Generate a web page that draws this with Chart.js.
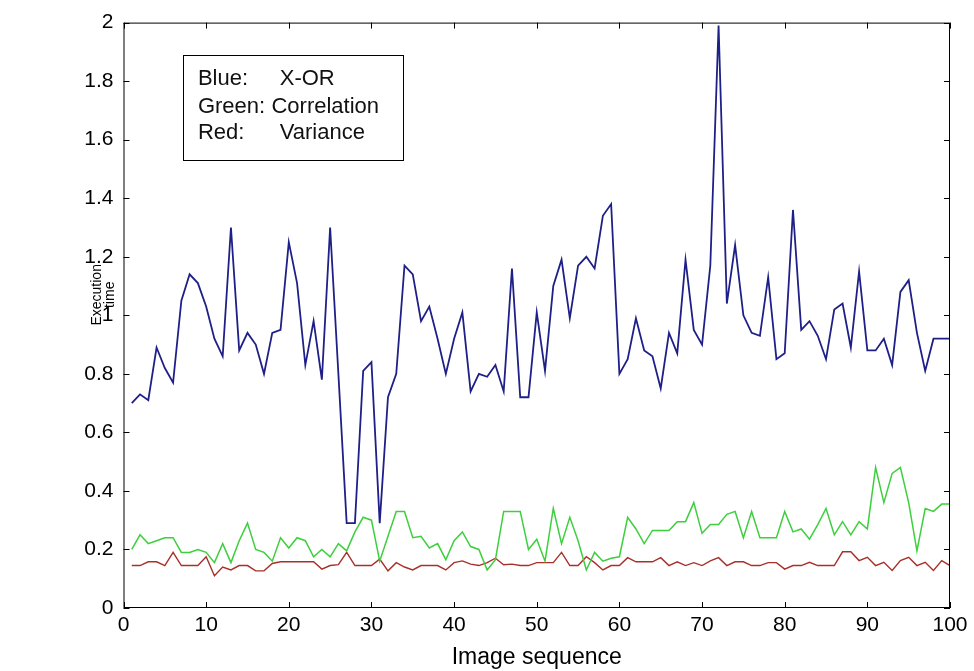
<!DOCTYPE html>
<html>
<head>
<meta charset="utf-8">
<script src="https://cdn.jsdelivr.net/npm/chart.js@4.4.0/dist/chart.umd.min.js"></script>
<style>
  body { margin: 0; background: #fff; }
</style>
</head>
<body>
<canvas id="myChart" width="974" height="671"></canvas>
<script>
const imageSeq = [1, 2, 3, 4, 5, 6, 7, 8, 9, 10, 11, 12, 13, 14, 15, 16, 17, 18, 19, 20,
  21, 22, 23, 24, 25, 26, 27, 28, 29, 30, 31, 32, 33, 34, 35, 36, 37, 38, 39, 40,
  41, 42, 43, 44, 45, 46, 47, 48, 49, 50, 51, 52, 53, 54, 55, 56, 57, 58, 59, 60,
  61, 62, 63, 64, 65, 66, 67, 68, 69, 70, 71, 72, 73, 74, 75, 76, 77, 78, 79, 80,
  81, 82, 83, 84, 85, 86, 87, 88, 89, 90, 91, 92, 93, 94, 95, 96, 97, 98, 99, 100];

// blue
const xorTime = [0.70, 0.73, 0.71, 0.89, 0.82, 0.77, 1.05, 1.14, 1.11, 1.03,
  0.92, 0.86, 1.30, 0.88, 0.94, 0.90, 0.80, 0.94, 0.95, 1.25,
  1.11, 0.83, 0.98, 0.78, 1.30, 0.80, 0.29, 0.29, 0.81, 0.84,
  0.29, 0.72, 0.80, 1.17, 1.14, 0.98, 1.03, 0.92, 0.80, 0.92,
  1.01, 0.74, 0.80, 0.79, 0.83, 0.74, 1.16, 0.72, 0.72, 1.01,
  0.81, 1.10, 1.19, 0.99, 1.17, 1.20, 1.16, 1.34, 1.38, 0.80,
  0.85, 0.99, 0.88, 0.86, 0.75, 0.94, 0.87, 1.19, 0.95, 0.90,
  1.17, 1.99, 1.04, 1.24, 1.00, 0.94, 0.93, 1.13, 0.85, 0.87,
  1.36, 0.95, 0.98, 0.93, 0.85, 1.02, 1.04, 0.89, 1.15, 0.88,
  0.88, 0.92, 0.83, 1.08, 1.12, 0.94, 0.81, 0.92, 0.92, 0.92];

// green
const corrTime = [0.20, 0.25, 0.22, 0.23, 0.24, 0.24, 0.19, 0.19, 0.20, 0.19,
  0.155, 0.22, 0.155, 0.23, 0.29, 0.20, 0.19, 0.16, 0.24, 0.205,
  0.24, 0.23, 0.175, 0.20, 0.175, 0.22, 0.195, 0.26, 0.31, 0.30,
  0.16, 0.245, 0.33, 0.33, 0.24, 0.245, 0.205, 0.22, 0.165, 0.23,
  0.26, 0.21, 0.20, 0.13, 0.165, 0.33, 0.33, 0.33, 0.20, 0.235,
  0.16, 0.34, 0.22, 0.31, 0.23, 0.13, 0.19, 0.16, 0.17, 0.175,
  0.31, 0.27, 0.22, 0.265, 0.265, 0.265, 0.295, 0.295, 0.36, 0.255,
  0.285, 0.285, 0.32, 0.33, 0.24, 0.33, 0.24, 0.24, 0.24, 0.33,
  0.26, 0.27, 0.235, 0.285, 0.34, 0.25, 0.295, 0.25, 0.295, 0.27,
  0.48, 0.36, 0.46, 0.48, 0.36, 0.195, 0.34, 0.33, 0.355, 0.355];

// red
const varTime = [0.145, 0.145, 0.158, 0.158, 0.145, 0.19, 0.145, 0.145, 0.145, 0.175,
  0.11, 0.14, 0.13, 0.145, 0.145, 0.127, 0.127, 0.152, 0.158, 0.158,
  0.158, 0.158, 0.158, 0.133, 0.145, 0.148, 0.19, 0.145, 0.145, 0.145,
  0.167, 0.127, 0.155, 0.14, 0.13, 0.145, 0.145, 0.145, 0.13, 0.155,
  0.161, 0.15, 0.145, 0.155, 0.17, 0.148, 0.15, 0.145, 0.145, 0.155,
  0.155, 0.155, 0.19, 0.145, 0.145, 0.175, 0.155, 0.13, 0.145, 0.145,
  0.172, 0.158, 0.158, 0.158, 0.172, 0.145, 0.158, 0.145, 0.155, 0.145,
  0.161, 0.172, 0.145, 0.158, 0.158, 0.145, 0.145, 0.155, 0.155, 0.133,
  0.145, 0.145, 0.156, 0.145, 0.145, 0.145, 0.192, 0.192, 0.162, 0.173,
  0.145, 0.156, 0.128, 0.162, 0.173, 0.145, 0.156, 0.128, 0.162, 0.145];

const xTickLabels = ["0", "10", "20", "30", "40", "50", "60", "70", "80", "90", "100"];
const yTickLabels = ["0", "0.2", "0.4", "0.6", "0.8", "1", "1.2", "1.4", "1.6", "1.8", "2"];
const legendKeys = ["Blue:", "Green:", "Red:"];
const legendNames = ["X-OR", "Correlation", "Variance"];
const yTitle = ["Execution", "time"];

const FONT = "'Liberation Sans', Arial, sans-serif";

function pts(vals) {
  return imageSeq.map((s, i) => ({ x: s, y: vals[i] }));
}

// box, inward ticks, y label and the text legend (matlab style)
const matlabBox = {
  id: "matlabBox",
  afterDraw(chart) {
    const { ctx, chartArea: a, scales } = chart;
    const x = scales.x;
    const y = scales.y;
    ctx.save();
    ctx.strokeStyle = "#000";
    ctx.lineWidth = 1;
    ctx.strokeRect(a.left + 0.5, a.top + 0.5, a.right - a.left - 1, a.bottom - a.top - 1);
    ctx.beginPath();
    x.ticks.forEach((t) => {
      const px = Math.round(x.getPixelForValue(t.value)) + 0.5;
      ctx.moveTo(px, a.bottom); ctx.lineTo(px, a.bottom - 6);
      ctx.moveTo(px, a.top); ctx.lineTo(px, a.top + 6);
    });
    y.ticks.forEach((t) => {
      const py = Math.round(y.getPixelForValue(t.value)) + 0.5;
      ctx.moveTo(a.left, py); ctx.lineTo(a.left + 6, py);
      ctx.moveTo(a.right, py); ctx.lineTo(a.right - 6, py);
    });
    ctx.stroke();

    // y axis label, two lines
    ctx.fillStyle = "#000";
    ctx.font = "14px " + FONT;
    ctx.textAlign = "center";
    ctx.textBaseline = "middle";
    const cy = y.getPixelForValue(1.07);
    yTitle.forEach((line, i) => {
      ctx.save();
      ctx.translate(97 + i * 13, cy);
      ctx.rotate(-Math.PI / 2);
      ctx.fillText(line, 0, 0);
      ctx.restore();
    });

    // legend text box
    const bl = x.getPixelForValue(7.2), br = x.getPixelForValue(33.8);
    const bt = y.getPixelForValue(1.889), bb = y.getPixelForValue(1.53);
    ctx.fillStyle = "#fff";
    ctx.fillRect(bl, bt, br - bl, bb - bt);
    ctx.strokeRect(Math.round(bl) + 0.5, Math.round(bt) + 0.5, Math.round(br - bl), Math.round(bb - bt));
    ctx.fillStyle = "#111";
    ctx.font = "22px " + FONT;
    ctx.textAlign = "left";
    const rows = [1.807, 1.713, 1.622];
    const nameX = [18.9, 17.9, 18.9];
    legendKeys.forEach((k, i) => {
      const py = y.getPixelForValue(rows[i]);
      ctx.fillText(k, x.getPixelForValue(9.0), py);
      ctx.fillText(legendNames[i], x.getPixelForValue(nameX[i]), py);
    });
    ctx.restore();
  },
};

const ctx = document.getElementById("myChart");
new Chart(ctx, {
  type: "line",
  data: {
    datasets: [
      { label: "X-OR", data: pts(xorTime), borderColor: "#1f1f88", borderWidth: 1.8 },
      { label: "Correlation", data: pts(corrTime), borderColor: "#3dcf3d", borderWidth: 1.5 },
      { label: "Variance", data: pts(varTime), borderColor: "#a8302a", borderWidth: 1.4 },
    ],
  },
  options: {
    responsive: false,
    animation: false,
    devicePixelRatio: 1,
    layout: { padding: { left: 80, right: 24, top: 16, bottom: 0 } },
    elements: { point: { radius: 0 }, line: { tension: 0 } },
    plugins: { legend: { display: false }, tooltip: { enabled: false } },
    scales: {
      x: {
        type: "linear",
        min: 0,
        max: 100,
        grid: { display: false, drawTicks: false },
        border: { display: false },
        ticks: {
          stepSize: 10,
          padding: 5,
          color: "#000",
          font: { family: FONT, size: 21 },
          maxRotation: 0,
          callback: (v, i) => xTickLabels[i],
        },
        title: {
          display: true,
          text: "Image sequence",
          color: "#000",
          font: { family: FONT, size: 23, lineHeight: 1 },
          padding: { top: 0, bottom: 2 },
        },
        afterFit: (scale) => { scale.height = 63; },
      },
      y: {
        min: 0,
        max: 2,
        grid: { display: false, drawTicks: false },
        border: { display: false },
        ticks: {
          stepSize: 0.2,
          padding: 10,
          color: "#000",
          font: { family: FONT, size: 21 },
          callback: (v, i) => yTickLabels[i],
        },
        afterFit: (scale) => { scale.width = 43.5; },
      },
    },
  },
  plugins: [matlabBox],
});
</script>
</body>
</html>
